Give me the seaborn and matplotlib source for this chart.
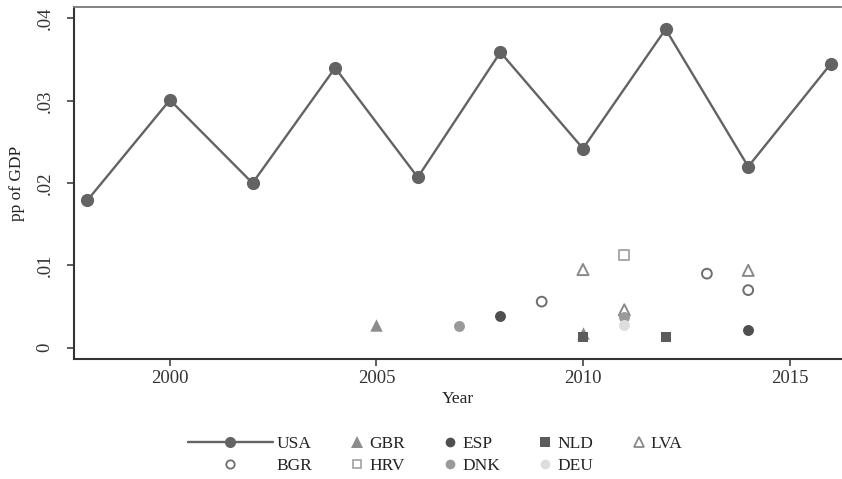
import numpy as np
import pandas as pd
import seaborn as sns
import matplotlib.pyplot as plt
from matplotlib.lines import Line2D
from matplotlib.legend_handler import HandlerLine2D
from matplotlib.ticker import FuncFormatter

# USA series (every second year)
usa_years = [1998, 2000, 2002, 2004, 2006, 2008, 2010, 2012, 2014, 2016]
usa_vals = [0.0179, 0.0301, 0.0200, 0.0340, 0.0207, 0.0359, 0.0242, 0.0387, 0.0220, 0.0345]

# other countries, single observations
gbr_years, gbr_vals = [2005, 2010], [0.0028, 0.0018]
esp_years, esp_vals = [2008, 2014], [0.0038, 0.0022]
nld_years, nld_vals = [2010, 2012], [0.0013, 0.0013]
lva_years, lva_vals = [2010, 2011, 2014], [0.0095, 0.0046, 0.0094]
bgr_years, bgr_vals = [2009, 2013, 2014], [0.0056, 0.0090, 0.0070]
hrv_years, hrv_vals = [2011], [0.0113]
dnk_years, dnk_vals = [2007, 2011], [0.0026, 0.0037]
deu_years, deu_vals = [2011], [0.0028]

yticks = [0, 0.01, 0.02, 0.03, 0.04]
xticks = [2000, 2005, 2010, 2015]

# name, years, values, marker, colour, filled
others = [
    ('GBR', gbr_years, gbr_vals, '^', '#8c8c8c', True),
    ('ESP', esp_years, esp_vals, 'o', '#4f4f4f', True),
    ('NLD', nld_years, nld_vals, 's', '#5c5c5c', True),
    ('LVA', lva_years, lva_vals, '^', '#8a8a8a', False),
    ('BGR', bgr_years, bgr_vals, 'o', '#6e6e6e', False),
    ('HRV', hrv_years, hrv_vals, 's', '#a8a8a8', False),
    ('DNK', dnk_years, dnk_vals, 'o', '#9a9a9a', True),
    ('DEU', deu_years, deu_vals, 'o', '#dedede', True),
]

sns.set_theme(style='white')
plt.rcParams['font.family'] = ['Liberation Serif', 'DejaVu Serif']

fig = plt.figure(figsize=(8.42, 4.79), dpi=100)
ax = fig.add_axes([0.088, 0.2505, 0.911, 0.735])

usa = pd.DataFrame({'Year': usa_years, 'val': usa_vals})
usa_col = '#636363'
sns.lineplot(data=usa, x='Year', y='val', ax=ax, color=usa_col, lw=1.7,
             marker='o', markersize=9.5, markeredgewidth=0, zorder=3)

for name, yrs, vals, mk, col, filled in others:
    d = pd.DataFrame({'Year': yrs, 'val': vals})
    s = 80 if mk == '^' else 62
    if filled:
        sns.scatterplot(data=d, x='Year', y='val', ax=ax, marker=mk, s=s,
                        facecolor=col, edgecolor=col, linewidth=0, zorder=4)
    else:
        sns.scatterplot(data=d, x='Year', y='val', ax=ax, marker=mk, s=s * 0.8,
                        facecolor='none', edgecolor=col, linewidth=1.4, zorder=4)

ax.set_xlim(1997.68, 2016.25)
ax.set_ylim(-0.00137, 0.0414)
ax.set_xticks(xticks)
ax.set_yticks(yticks)
ax.yaxis.set_major_formatter(FuncFormatter(lambda v, p: '0' if v == 0 else f'{v:.2f}'.lstrip('0')))
ax.tick_params(axis='both', which='major', direction='out', length=5, width=1.1,
               color='#333333', labelsize=13.5, labelcolor='#333333', left=True, bottom=True)
ax.tick_params(axis='y', pad=10)
ax.tick_params(axis='x', pad=3)
for lab in ax.get_yticklabels():
    lab.set_rotation(90)
    lab.set_va('center')

ax.set_xlabel('Year', fontsize=12.5, color='#222222', labelpad=3)
ax.set_ylabel('pp of GDP', fontsize=12.5, color='#222222', labelpad=8)

ax.spines['right'].set_visible(False)
ax.spines['top'].set_color('#7a7a7a')
ax.spines['top'].set_linewidth(1.3)
for sp in ['left', 'bottom']:
    ax.spines[sp].set_color('#333333')
    ax.spines[sp].set_linewidth(1.5)
ax.grid(False)


class LongKey(HandlerLine2D):
    def create_artists(self, legend, orig_handle, xdescent, ydescent, width, height, fontsize, trans):
        ext = 3.9 * fontsize
        return super().create_artists(legend, orig_handle, xdescent + ext, ydescent,
                                      width + ext, height, fontsize, trans)


h_usa = Line2D([], [], color=usa_col, lw=1.7, marker='o', markersize=8, markeredgewidth=0)
handles = {'USA': h_usa}
for name, yrs, vals, mk, col, filled in others:
    ms = 8 if mk == '^' else 7
    if filled:
        handles[name] = Line2D([], [], ls='none', marker=mk, markersize=ms,
                               markerfacecolor=col, markeredgecolor=col, markeredgewidth=0)
    else:
        handles[name] = Line2D([], [], ls='none', marker=mk, markersize=ms - 1,
                               markerfacecolor='none', markeredgecolor=col, markeredgewidth=1.3)

order = ['USA', 'BGR', 'GBR', 'HRV', 'ESP', 'DNK', 'NLD', 'DEU', 'LVA']
leg = fig.legend([handles[k] for k in order], order, loc='upper center',
                 bbox_to_anchor=(0.557, 0.115), ncol=5, frameon=False, fontsize=12.5,
                 handlelength=1.0, handletextpad=0.2, columnspacing=2.1,
                 labelspacing=0.3, borderpad=0.2,
                 handler_map={handles['USA']: LongKey(), handles['BGR']: LongKey()})
for t in leg.get_texts():
    t.set_color('#222222')

fig.savefig('out.png', dpi=100)
